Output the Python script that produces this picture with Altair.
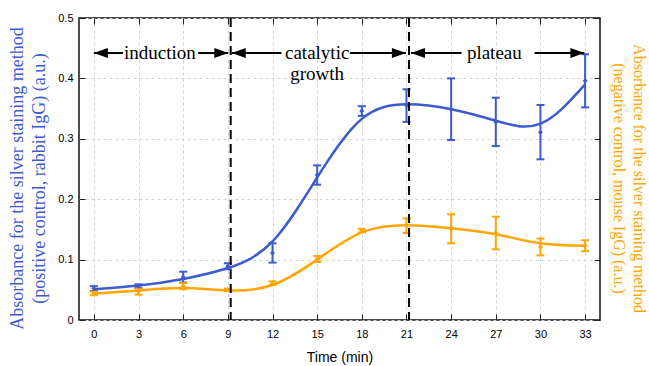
import altair as alt
import pandas as pd

# ---------------- data ----------------
times = [0, 3, 6, 9, 12, 15, 18, 21, 24, 27, 30, 33]

# positive control (rabbit IgG), blue
pos_mean = [0.052, 0.056, 0.071, 0.089, 0.111, 0.240, 0.346, 0.355, 0.349, 0.328, 0.311, 0.396]
pos_err = [0.004, 0.003, 0.009, 0.005, 0.016, 0.016, 0.008, 0.027, 0.051, 0.040, 0.045, 0.044]
pos_fit = [0.051, 0.057, 0.068, 0.086, 0.130, 0.236, 0.333, 0.357, 0.349, 0.330, 0.325, 0.390]

# negative control (mouse IgG), orange
neg_mean = [0.044, 0.047, 0.056, 0.050, 0.061, 0.101, 0.148, 0.156, 0.151, 0.144, 0.121, 0.123]
neg_err = [0.003, 0.005, 0.005, 0.002, 0.003, 0.005, 0.003, 0.012, 0.024, 0.027, 0.014, 0.009]
neg_fit = [0.044, 0.049, 0.053, 0.049, 0.058, 0.100, 0.145, 0.157, 0.152, 0.142, 0.127, 0.123]

# phase annotations
phase_bounds = [9.19, 21.17]
arrow_y = 0.442
seg_start = [0, 7.0, 9.26, 17.2, 21.3, 29.6]
seg_end = [1.95, 9.03, 12.6, 20.96, 24.7, 32.95]
head_right = [9.03, 20.96, 32.95]
head_left = [0, 9.26, 21.3]
phase_labels = ["induction", "catalytic\ngrowth", "plateau"]
label_x = [4.43, 15.0, 26.9]

y_ticks = [0, 0.1, 0.2, 0.3, 0.4, 0.5]

BLUE = "#3B5BCF"
ORANGE = "#FFA500"

# ---------------- tables ----------------
df = pd.DataFrame({
    "t": times,
    "pm": pos_mean,
    "plo": [m - e for m, e in zip(pos_mean, pos_err)],
    "phi": [m + e for m, e in zip(pos_mean, pos_err)],
    "pf": pos_fit,
    "nm": neg_mean,
    "nlo": [m - e for m, e in zip(neg_mean, neg_err)],
    "nhi": [m + e for m, e in zip(neg_mean, neg_err)],
    "nf": neg_fit,
})
bounds_df = pd.DataFrame({"b": phase_bounds})
seg_df = pd.DataFrame({"s": seg_start, "e": seg_end, "y": [arrow_y] * len(seg_start)})
hr_df = pd.DataFrame({"x": head_right, "y": [arrow_y] * len(head_right)})
hl_df = pd.DataFrame({"x": head_left, "y": [arrow_y] * len(head_left)})
lab_df = pd.DataFrame({"x": label_x, "y": [arrow_y] * len(label_x), "txt": phase_labels})

xs = alt.Scale(domain=[-1, 34], nice=False, zero=False)
ys = alt.Scale(domain=[0, 0.5], nice=False, zero=False)

SANS = "Liberation Sans"
SERIF = "Liberation Serif"

tick_only = dict(labels=False, title=None, domain=False, grid=False, ticks=True,
                 tickSize=6, tickColor="#222222", tickWidth=1, offset=-6)

ax_x_main = alt.Axis(orient="bottom", values=times, format="~g", title="Time (min)",
                     titleFont=SANS, titleFontSize=14, titleFontWeight="normal",
                     titleColor="black", titlePadding=11, labelFont=SANS, labelFontSize=11,
                     labelColor="black", labelPadding=8, labelFlush=False, ticks=False,
                     domain=False, grid=True, gridColor="#d4d4d4", gridDash=[3, 3],
                     gridWidth=1)
ax_x_btick = alt.Axis(orient="bottom", values=times, **tick_only)
ax_x_ttick = alt.Axis(orient="top", values=times, **tick_only)

ax_y_main = alt.Axis(orient="left", values=y_ticks, format="~g",
                     title=["Absorbance for the silver staining method",
                            "(positive control, rabbit IgG) (a.u.)"],
                     titleFont=SERIF, titleFontSize=18, titleFontWeight="normal",
                     titleColor=BLUE, titleLineHeight=22, titlePadding=9, titleY=160,
                     labelFont=SANS, labelFontSize=11, labelColor="black", labelPadding=6,
                     labelFlush=False, ticks=False, domain=False, grid=True,
                     gridColor="#d4d4d4", gridDash=[3, 3], gridWidth=1)
ax_y_ltick = alt.Axis(orient="left", values=y_ticks, **tick_only)
ax_y_rtick = alt.Axis(orient="right", values=y_ticks, **tick_only)
ax_y_rtitle = alt.Axis(orient="right", values=y_ticks, labels=False, ticks=False,
                       domain=False, grid=False,
                       title=["Absorbance for the silver staining method",
                              "(negative control, mouse IgG) (a.u.)"],
                       titleFont=SERIF, titleFontSize=16, titleFontWeight="normal",
                       titleColor=ORANGE, titleLineHeight=20, titlePadding=10, titleY=160)

base = alt.Chart(df)

pos_line = base.mark_line(color=BLUE, strokeWidth=2.5, interpolate="natural").encode(
    x=alt.X("t:Q", scale=xs, axis=ax_x_main),
    y=alt.Y("pf:Q", scale=ys, axis=ax_y_main),
)
neg_line = base.mark_line(color=ORANGE, strokeWidth=2.5, interpolate="natural").encode(
    x=alt.X("t:Q", scale=xs, axis=ax_x_btick),
    y=alt.Y("nf:Q", scale=ys, axis=ax_y_ltick),
)
pos_bar = base.mark_rule(color=BLUE, strokeWidth=2).encode(
    x=alt.X("t:Q", scale=xs, axis=ax_x_ttick),
    y=alt.Y("plo:Q", scale=ys, axis=ax_y_rtick),
    y2="phi:Q",
)
neg_bar = base.mark_rule(color=ORANGE, strokeWidth=2).encode(
    x=alt.X("t:Q", scale=xs, axis=None),
    y=alt.Y("nlo:Q", scale=ys, axis=ax_y_rtitle),
    y2="nhi:Q",
)
pos_cap = base.transform_fold(["plo", "phi"]).mark_tick(
    color=BLUE, orient="horizontal", size=8, thickness=2, opacity=1).encode(
    x=alt.X("t:Q", scale=xs, axis=None),
    y=alt.Y("value:Q", scale=ys, axis=None),
)
neg_cap = base.transform_fold(["nlo", "nhi"]).mark_tick(
    color=ORANGE, orient="horizontal", size=8, thickness=2, opacity=1).encode(
    x=alt.X("t:Q", scale=xs, axis=None),
    y=alt.Y("value:Q", scale=ys, axis=None),
)
pos_pt = base.mark_point(color=BLUE, filled=True, shape="diamond", size=25, opacity=1).encode(
    x=alt.X("t:Q", scale=xs, axis=None),
    y=alt.Y("pm:Q", scale=ys, axis=None),
)
neg_pt = base.mark_point(color=ORANGE, filled=True, shape="diamond", size=25, opacity=1).encode(
    x=alt.X("t:Q", scale=xs, axis=None),
    y=alt.Y("nm:Q", scale=ys, axis=None),
)

vlines = alt.Chart(bounds_df).mark_rule(color="black", strokeWidth=2, strokeDash=[9, 5]).encode(
    x=alt.X("b:Q", scale=xs, axis=None),
)
segs = alt.Chart(seg_df).mark_rule(color="black", strokeWidth=2).encode(
    x=alt.X("s:Q", scale=xs, axis=None),
    x2="e:Q",
    y=alt.Y("y:Q", scale=ys, axis=None),
)
heads_r = alt.Chart(hr_df).mark_point(
    shape="M0,0L-2,-0.72L-2,0.72Z", filled=True, color="black", size=196, opacity=1,
    strokeWidth=0).encode(
    x=alt.X("x:Q", scale=xs, axis=None),
    y=alt.Y("y:Q", scale=ys, axis=None),
)
heads_l = alt.Chart(hl_df).mark_point(
    shape="M0,0L2,-0.72L2,0.72Z", filled=True, color="black", size=196, opacity=1,
    strokeWidth=0).encode(
    x=alt.X("x:Q", scale=xs, axis=None),
    y=alt.Y("y:Q", scale=ys, axis=None),
)
labels = alt.Chart(lab_df).mark_text(
    font=SERIF, fontSize=19, color="black", baseline="middle", align="center",
    lineBreak="\n", lineHeight=21).encode(
    x=alt.X("x:Q", scale=xs, axis=None),
    y=alt.Y("y:Q", scale=ys, axis=None),
    text="txt:N",
)

chart = alt.layer(
    pos_line, neg_line, pos_bar, neg_bar, pos_cap, neg_cap, pos_pt, neg_pt,
    vlines, segs, heads_r, heads_l, labels,
).resolve_axis(x="independent", y="independent").properties(
    width=521, height=302,
    autosize=alt.AutoSizeParams(type="none"),
    padding={"left": 79, "top": 18, "right": 49, "bottom": 46},
    background="white",
).configure_view(stroke="#111111", strokeWidth=1.5)

chart.save("out.html", embed_options={"renderer": "svg", "actions": False})
